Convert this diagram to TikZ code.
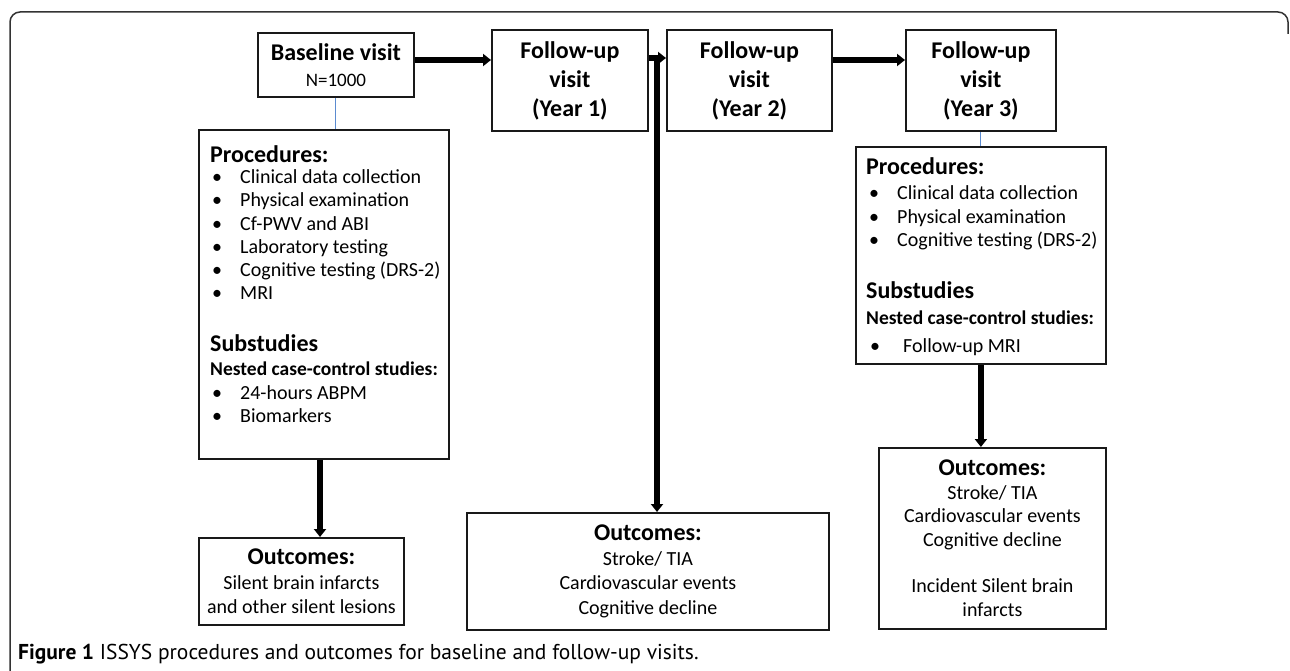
\documentclass[tikz,border=0pt]{standalone}
\usepackage{fontspec}
\setmainfont{Carlito}
\newfontfamily\capfont{PT Sans}
\usetikzlibrary{arrows.meta,calc}
\definecolor{frameclr}{HTML}{333333}
\definecolor{linkblue}{HTML}{5B8BD0}
\begin{document}
\begin{tikzpicture}[x=1pt,y=-1pt,
  box/.style={draw=black!90, line width=1.8pt, inner sep=0pt, align=center, anchor=north west},
  yearbox/.style={box, minimum width=156pt, minimum height=101pt, font=\bfseries\fontsize{24}{29}\selectfont},
  outbox/.style={box, font=\fontsize{20}{24.5}\selectfont},
  bigarrow/.style={line width=6pt, -{Triangle[width=12pt,length=8pt]}},
  bluelink/.style={draw=linkblue, line width=1pt},
  head/.style={anchor=base west, inner sep=0pt, font=\bfseries\fontsize{24}{28}\selectfont},
  subhead/.style={anchor=base west, inner sep=0pt, font=\bfseries\fontsize{19.5}{24}\selectfont},
  itemtext/.style={anchor=base west, inner sep=0pt, font=\fontsize{20}{24}\selectfont},
  bulletmark/.style={anchor=base west, inner sep=0pt, font=\fontsize{20}{24}\selectfont}
]
\useasboundingbox (0,0) rectangle (1290,671);
% outer frame
\draw[draw=frameclr, line width=1.5pt, rounded corners=10pt] (10,671) -- (10,12) -- (1288,12) -- (1288,34);

% top row
\node[box, minimum width=156pt, minimum height=64pt, font=\fontsize{19}{26}\selectfont] (base) at (257,32)
  {{\bfseries\fontsize{24}{26}\selectfont Baseline visit}\\N=1000};
\node[yearbox] (y1) at (491,29) {Follow-up\\visit\\(Year 1)};
\node[yearbox, minimum width=165pt] (y2) at (666,29) {Follow-up\\visit\\(Year 2)};
\node[yearbox, minimum width=150pt] (y3) at (905,29) {Follow-up\\visit\\(Year 3)};

% procedures box 1
\node[box, minimum width=250pt, minimum height=329pt] (p1) at (198,129) {};
\node[head] (p1h) at (210,163) {Procedures:};
\foreach \t [count=\i] in {Clinical data collection, Physical examination, Cf-PWV and ABI, Laboratory testing, Cognitive testing (DRS-2), MRI}{
  \node[bulletmark] (p1b\i) at (212,{184+(\i-1)*23}) {\textbullet};
  \node[itemtext] (p1t\i) at (240,{184+(\i-1)*23}) {\t};
}
\node[head] (p1s) at (210,351) {Substudies};
\node[subhead] (p1n) at (210,375) {Nested case-control studies:};
\node[bulletmark] (p1b7) at (212,399) {\textbullet};
\node[itemtext] (p1t7) at (240,399) {24-hours ABPM};
\node[bulletmark] (p1b8) at (212,422) {\textbullet};
\node[itemtext] (p1t8) at (240,422) {Biomarkers};

% procedures box 2
\node[box, minimum width=250pt, minimum height=217pt] (p2) at (855,146) {};
\node[head] (p2h) at (866,175) {Procedures:};
\node[bulletmark] (p2b1) at (869,200) {\textbullet};
\node[itemtext] (p2t1) at (897,200) {Clinical data collection};
\node[bulletmark] (p2b2) at (869,223) {\textbullet};
\node[itemtext] (p2t2) at (897,223) {Physical examination};
\node[bulletmark] (p2b3) at (869,247) {\textbullet};
\node[itemtext] (p2t3) at (897,247) {Cognitive testing (DRS-2)};
\node[head] (p2s) at (866,298) {Substudies};
\node[subhead] (p2n) at (866,324) {Nested case-control studies:};
\node[bulletmark] (p2b4) at (870,352) {\textbullet};
\node[itemtext] (p2t4) at (903,352) {Follow-up MRI};

% outcome boxes
\node[outbox, minimum width=205pt, minimum height=87pt] (o1) at (198,537)
  {{\bfseries\fontsize{24}{26}\selectfont Outcomes:}\\Silent brain infarcts\\and other silent lesions};
\node[outbox, minimum width=362pt, minimum height=117pt] (o2) at (466,512)
  {{\bfseries\fontsize{24}{26}\selectfont Outcomes:}\\Stroke/ TIA\\Cardiovascular events\\Cognitive decline};
\node[outbox, minimum width=227pt, minimum height=181pt, font=\fontsize{20}{23.5}\selectfont] (o3) at (878,447)
  {{\bfseries\fontsize{24}{26}\selectfont Outcomes:}\\Stroke/ TIA\\Cardiovascular events\\Cognitive decline\\[23pt]Incident Silent brain\\infarcts};

% connectors
\draw[bigarrow] (base.east |- 0,60) -- (y1.west |- 0,60);
\coordinate (j) at (657,58);
\draw[bigarrow] (y1.east |- j) -- (y2.west |- j);
\draw[bigarrow] (j) -- (j |- o2.north);
\draw[bigarrow] (y2.east |- 0,60) -- (y3.west |- 0,60);
\draw[bluelink] (base.south) -- (base.south |- p1.north);
\draw[bluelink] (y3.south) -- (y3.south |- p2.north);
\coordinate (a1) at (320,0);
\draw[bigarrow] (a1 |- p1.south) -- (a1 |- o1.north);
\draw[bigarrow] (p2.south) -- (p2.south |- o3.north);

% caption
\node[anchor=base west, inner sep=0pt, font=\capfont\fontsize{21.5}{25}\selectfont] (cap) at (18,659)
  {\textbf{Figure 1} ISSYS procedures and outcomes for baseline and follow-up visits.};
\end{tikzpicture}
\end{document}
